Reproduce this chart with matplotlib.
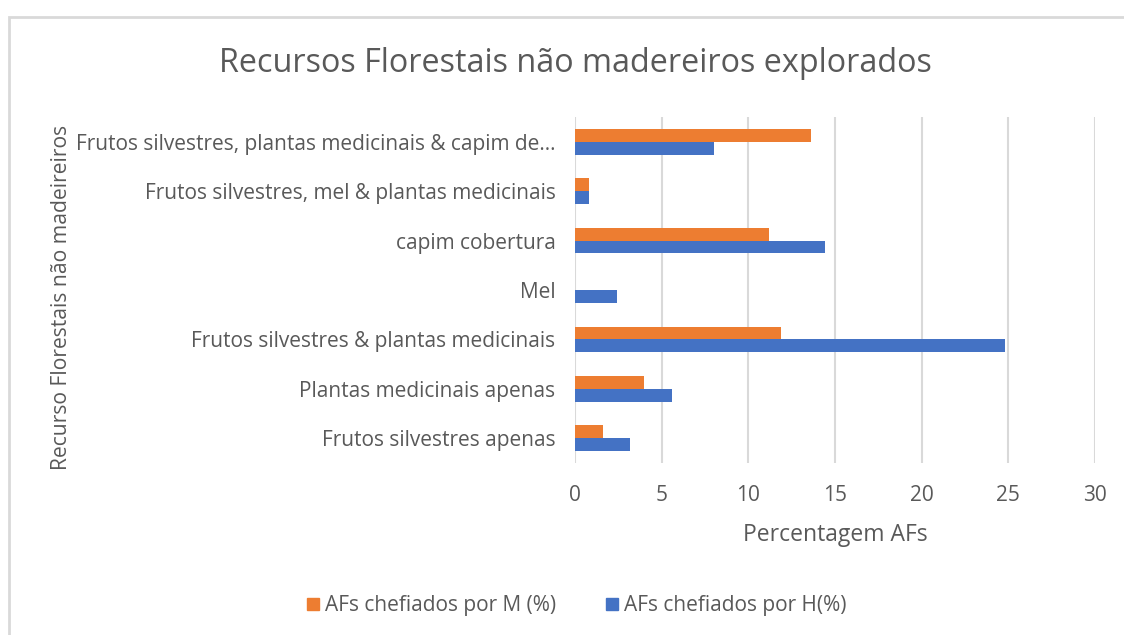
import matplotlib
matplotlib.use("Agg")
import matplotlib.pyplot as plt
from matplotlib.patches import Rectangle, Patch
import numpy as np

# categories listed bottom to top
categories = [
    "Frutos silvestres apenas",
    "Plantas medicinais apenas",
    "Frutos silvestres & plantas medicinais",
    "Mel",
    "capim cobertura",
    "Frutos silvestres, mel & plantas medicinais",
    "Frutos silvestres, plantas medicinais & capim de...",
]
mulheres = [1.6, 4.0, 11.9, 0.0, 11.2, 0.8, 13.6]
homens = [3.2, 5.6, 24.8, 2.4, 14.4, 0.8, 8.0]
x_ticks = [0, 5, 10, 15, 20, 25, 30]

orange = "#ED7D31"
blue = "#4472C4"
text_col = "#595959"
grid_col = "#d9d9d9"

plt.rcParams["font.family"] = ["Open Sans", "DejaVu Sans"]

fig = plt.figure(figsize=(11.24, 6.35), dpi=100)
fig.patch.set_facecolor("white")

# chart frame
fig.patches.append(Rectangle((9 / 1124, -0.05), 1.1, 1 - 17 / 635 + 0.05,
                             transform=fig.transFigure, fill=False,
                             edgecolor=grid_col, linewidth=2))

ax = fig.add_axes([575 / 1124, 1 - 463 / 635, 520 / 1124, 346 / 635])
y = np.arange(len(categories))
h = 0.26
ax.barh(y + h / 2, mulheres, height=h, color=orange, label="AFs chefiados por M (%)", zorder=3)
ax.barh(y - h / 2, homens, height=h, color=blue, label="AFs chefiados por H(%)", zorder=3)

ax.set_xlim(0, 30)
ax.set_ylim(-0.5, len(categories) - 0.5)
ax.set_xticks(x_ticks)
ax.set_yticks(y)
ax.set_yticklabels(categories)
ax.tick_params(axis="y", length=0, pad=14, labelsize=15, labelcolor=text_col)
ax.tick_params(axis="x", length=0, pad=16, labelsize=15, labelcolor=text_col)
ax.grid(axis="x", color=grid_col, linewidth=1.5, zorder=0)
for s in ax.spines.values():
    s.set_visible(False)

ax.set_xlabel("Percentagem AFs", fontsize=16.5, color=text_col, labelpad=12)

fig.text(575 / 1124, 1 - 64 / 635, "Recursos Florestais não madereiros explorados",
         ha="center", va="center", fontsize=23.3, color=text_col)
fig.text(62 / 1124, 1 - 297 / 635, "Recurso Florestais não madeireiros",
         ha="center", va="center", rotation=90, fontsize=15.2, color=text_col)

handles = [Patch(color=orange), Patch(color=blue)]
fig.legend(handles, ["AFs chefiados por M (%)", "AFs chefiados por H(%)"],
           loc="center", bbox_to_anchor=(577 / 1124, 1 - 606 / 635), ncol=2,
           frameon=False, fontsize=15, labelcolor=text_col,
           handlelength=0.55, handleheight=0.55, handletextpad=0.3, columnspacing=2.4)

fig.savefig("out.png", dpi=100)
